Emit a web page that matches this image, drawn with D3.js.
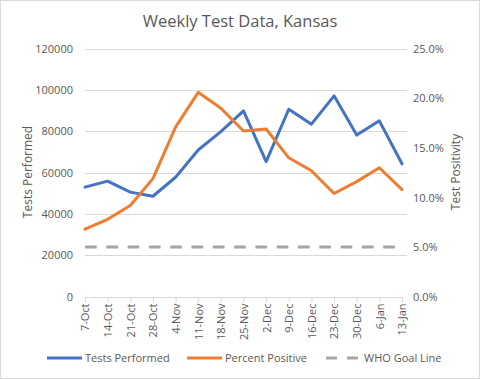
<!DOCTYPE html>
<html><head><meta charset="utf-8">
<script src="https://cdnjs.cloudflare.com/ajax/libs/d3/7.8.5/d3.min.js"></script>
<style>body{margin:0;background:#fff}svg{display:block;font-family:"Open Sans","Liberation Sans",sans-serif}</style>
</head><body><svg id="c" width="480" height="379"></svg>
<script>
const categories = ["7-Oct","14-Oct","21-Oct","28-Oct","4-Nov","11-Nov","18-Nov","25-Nov","2-Dec","9-Dec","16-Dec","23-Dec","30-Dec","6-Jan","13-Jan"];
const testsPerformed = [53000,55900,50600,48600,57800,71000,79900,89900,65400,90700,83500,97200,78200,85100,64300];
const percentPositive = [0.068,0.078,0.092,0.119,0.171,0.206,0.190,0.167,0.169,0.140,0.127,0.104,0.116,0.130,0.108];
const whoGoal = categories.map(() => 0.05);
const leftTicks = [0,20000,40000,60000,80000,100000,120000];
const rightTicks = [0,0.05,0.10,0.15,0.20,0.25];

const svg = d3.select("#c");
const L = 85, R = 402, T = 48.7, B = 296.7;
const x = d3.scalePoint().domain(categories).range([L, R]);
const yL = d3.scaleLinear().domain([0,120000]).range([B, T]);
const yR = d3.scaleLinear().domain([0,0.25]).range([B, T]);
const textCol = "#595959";

svg.append("rect").attr("x",0.5).attr("y",0.5).attr("width",479).attr("height",378)
  .attr("fill","#fff").attr("stroke","#d9d9d9");

svg.append("text").attr("x",240).attr("y",27).attr("text-anchor","middle")
  .attr("font-size",16.5).attr("fill",textCol).text("Weekly Test Data, Kansas");

// gridlines
svg.append("g").selectAll("line").data(leftTicks.slice(1)).join("line")
  .attr("x1",L).attr("x2",R+5).attr("y1",d=>Math.round(yL(d))+0.5).attr("y2",d=>Math.round(yL(d))+0.5)
  .attr("stroke","#d9d9d9").attr("stroke-width",1);

// left axis
const gl = svg.append("g").attr("transform",`translate(${L-12},0)`)
  .call(d3.axisLeft(yL).tickValues(leftTicks).tickSize(0).tickPadding(0).tickFormat(d3.format("d")));
gl.select(".domain").remove();
gl.selectAll("text").attr("font-size",11).attr("fill",textCol).attr("font-family","'Open Sans','Liberation Sans',sans-serif");

// right axis
const gr = svg.append("g").attr("transform",`translate(${R+11},0)`)
  .call(d3.axisRight(yR).tickValues(rightTicks).tickSize(0).tickPadding(0).tickFormat(d3.format(".1%")));
gr.select(".domain").remove();
gr.selectAll("text").attr("font-size",11).attr("fill",textCol).attr("font-family","'Open Sans','Liberation Sans',sans-serif");

// x axis
const gx = svg.append("g").attr("transform",`translate(0,${Math.round(B)+0.5})`)
  .call(d3.axisBottom(x).tickSize(5).tickPadding(4));
gx.select(".domain").attr("stroke","#d9d9d9").attr("d",`M${L-1},0H${R+1}`);
gx.selectAll(".tick line").attr("stroke","#d9d9d9");
gx.selectAll("text").attr("font-size",11).attr("fill",textCol).attr("font-family","'Open Sans','Liberation Sans',sans-serif")
  .attr("transform","rotate(-90)").attr("text-anchor","end").attr("x",-6).attr("y",0).attr("dy","0.35em");

// axis titles
svg.append("text").attr("transform",`translate(32,172) rotate(-90)`).attr("text-anchor","middle")
  .attr("font-size",12).attr("fill",textCol).text("Tests Performed");
svg.append("text").attr("transform",`translate(460,172) rotate(-90)`).attr("text-anchor","middle")
  .attr("font-size",12).attr("fill",textCol).text("Test Positivity");

// lines
const lineL = d3.line().x((d,i)=>x(categories[i])).y(d=>yL(d));
const lineR = d3.line().x((d,i)=>x(categories[i])).y(d=>yR(d));
svg.append("path").datum(whoGoal).attr("d",lineR).attr("fill","none").attr("stroke","#a5a5a5")
  .attr("stroke-width",3).attr("stroke-dasharray","11.7 9.6");
svg.append("path").datum(testsPerformed).attr("d",lineL).attr("fill","none").attr("stroke","#4472c4")
  .attr("stroke-width",3).attr("stroke-linejoin","round").attr("stroke-linecap","round");
svg.append("path").datum(percentPositive).attr("d",lineR).attr("fill","none").attr("stroke","#ed7d31")
  .attr("stroke-width",3).attr("stroke-linejoin","round").attr("stroke-linecap","round");

// legend
const legend = [
  {name:"Tests Performed", color:"#4472c4", dash:null, x:47},
  {name:"Percent Positive", color:"#ed7d31", dash:null, x:187},
  {name:"WHO Goal Line", color:"#a5a5a5", dash:"11 10", x:326}
];
const lg = svg.append("g").selectAll("g").data(legend).join("g").attr("transform",d=>`translate(${d.x},358)`);
lg.append("line").attr("x1",0).attr("x2",35).attr("y1",0).attr("y2",0).attr("stroke",d=>d.color)
  .attr("stroke-width",3).attr("stroke-dasharray",d=>d.dash);
lg.append("text").attr("x",38).attr("y",0).attr("dy","0.35em").attr("font-size",11).attr("fill",textCol).text(d=>d.name);
</script></body></html>
